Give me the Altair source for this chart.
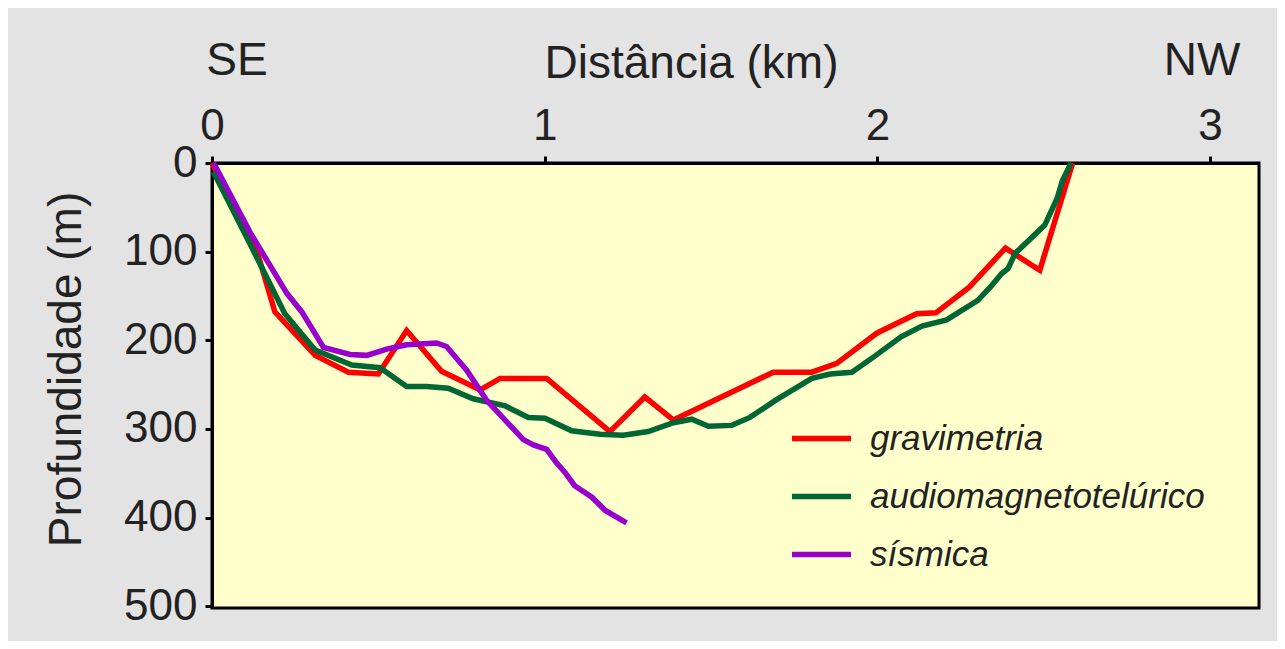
import altair as alt
import pandas as pd

# ---- data ----
series_names = ["gravimetria", "audiomagnetotelúrico", "sísmica"]
series_colors = ["#ff0000", "#006633", "#9900cc"]

grav_km = [0.0, 0.134, 0.189, 0.310, 0.410, 0.500, 0.585, 0.690, 0.806, 0.866, 1.006, 1.196,
           1.301, 1.387, 1.687, 1.803, 1.878, 1.998, 2.068, 2.118, 2.176, 2.276, 2.385, 2.488, 2.587]
grav_m = [0, 98, 168, 217, 236, 238, 189, 235, 256, 243, 243, 303,
          264, 290, 236, 236, 226, 192, 179, 170, 169, 140, 96, 121, 0]

amt_km = [0.004, 0.114, 0.219, 0.310, 0.420, 0.505, 0.585, 0.645, 0.710, 0.785, 0.881, 0.951,
          1.001, 1.081, 1.166, 1.236, 1.311, 1.387, 1.442, 1.492, 1.562, 1.617, 1.697, 1.803,
          1.858, 1.923, 1.988, 2.071, 2.134, 2.208, 2.302, 2.344, 2.373, 2.393, 2.414, 2.503,
          2.540, 2.556, 2.582]
amt_m = [10, 91, 170, 211, 228, 231, 252, 252, 254, 266, 274, 287,
         288, 302, 306, 307, 303, 293, 289, 297, 296, 287, 267, 243,
         238, 236, 219, 196, 184, 177, 155, 138, 125, 119, 102, 70,
         40, 20, 0]

sis_km = [0.005, 0.114, 0.225, 0.270, 0.335, 0.415, 0.465, 0.525, 0.585, 0.675, 0.705, 0.766,
          0.826, 0.886, 0.936, 0.966, 1.006, 1.033, 1.061, 1.090, 1.142, 1.182, 1.246]
sis_m = [0, 78, 147, 168, 208, 216, 217, 210, 205, 203, 207, 234,
         268, 292, 312, 318, 323, 337, 349, 364, 377, 392, 406]

x_ticks = [0, 1, 2, 3]
y_ticks = [0, 100, 200, 300, 400, 500]

dir_labels = ["SE", "NW"]
dir_km = [0.075, 2.976]

# ---- tables ----
rows = []
for name, kms, ms in zip(series_names, [grav_km, amt_km, sis_km], [grav_m, amt_m, sis_m]):
    for i, (k, m) in enumerate(zip(kms, ms)):
        rows.append({"serie": name, "km": k, "m": m, "i": i})
df = pd.DataFrame(rows)
dir_df = pd.DataFrame({"label": dir_labels, "km": dir_km})

FONT = "Liberation Sans"
TXT = "#222222"

x_scale = alt.Scale(domain=[0, 3.147], nice=False, zero=False)
y_scale = alt.Scale(domain=[0, 502], nice=False, reverse=True)
color_scale = alt.Scale(domain=series_names, range=series_colors)

x_enc = alt.X("km:Q", scale=x_scale,
              axis=alt.Axis(orient="top", values=x_ticks, format="d", title="Distância (km)",
                            titleX=479, titleY=-86, titleBaseline="alphabetic",
                            titleAnchor="start", titleAlign="center"))
y_enc = alt.Y("m:Q", scale=y_scale,
              axis=alt.Axis(values=y_ticks, format="d", title="Profundidade (m)",
                            titleX=-132, titleY=206, titleBaseline="alphabetic",
                            titleAngle=-90, titleAlign="center"))

layers = []
for name in series_names:
    layers.append(
        alt.Chart(df).transform_filter(alt.datum.serie == name)
        .mark_line(strokeWidth=5.5, strokeJoin="miter", strokeCap="butt")
        .encode(
            x=x_enc, y=y_enc,
            order="i:Q",
            color=alt.Color("serie:N", scale=color_scale,
                            legend=alt.Legend(title=None, orient="none", legendX=577, legendY=243,
                                              symbolType="stroke", symbolSize=3481,
                                              symbolStrokeWidth=5.5, labelOffset=16,
                                              labelFont=FONT, labelFontSize=35,
                                              labelFontStyle="italic", labelColor=TXT,
                                              rowPadding=7, labelLimit=600)),
        )
    )

dir_text = alt.Chart(dir_df).mark_text(
    font=FONT, fontSize=46, color=TXT, align="center", baseline="alphabetic"
).encode(x=alt.X("km:Q", scale=x_scale), y=alt.value(-88), text="label:N")

chart = alt.layer(*layers, dir_text).properties(
    width=1047, height=445,
    autosize=alt.AutoSizeParams(type="none"),
    padding={"left": 204, "top": 155, "right": 18, "bottom": 33},
    background="#e3e3e3",
).configure_view(
    fill="#ffffcc", stroke="#000000", strokeWidth=3
).configure_axis(
    grid=False, domainColor="#000000", domainWidth=3,
    tickColor="#000000", tickWidth=3, tickSize=7,
    labelFont=FONT, labelFontSize=44, labelColor=TXT, labelPadding=8,
    titleFont=FONT, titleFontSize=46, titleColor=TXT, titleFontWeight="normal",
    labelFlush=False, labelOverlap=False,
)

chart.save("out.html", embed_options={"renderer": "svg", "actions": False})
